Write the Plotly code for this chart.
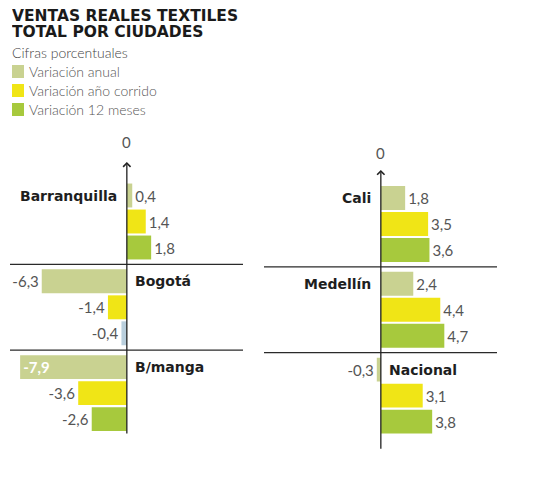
import plotly.graph_objs as go

# data
series = ['Variación anual', 'Variación año corrido', 'Variación 12 meses']
left_cities = ['Barranquilla', 'Bogotá', 'B/manga']
left_values = [[0.4, 1.4, 1.8], [-6.3, -1.4, -0.4], [-7.9, -3.6, -2.6]]
right_cities = ['Cali', 'Medellín', 'Nacional']
right_values = [[1.8, 3.5, 3.6], [2.4, 4.4, 4.7], [-0.3, 3.1, 3.8]]
title_lines = ['VENTAS REALES TEXTILES', 'TOTAL POR CIUDADES']

colors = ['#c9d291', '#f0e516', '#a7c93d']
odd_color = '#b9cfdd'  # Bogotá 12 meses bar shows light blue in the original
FONT = 'Lato'
BOLD = 'DejaVu Sans'
OFF = 8  # page body margin
W, H = 540 - OFF, 492 - OFF
STEP = 3.3  # group spacing in bar units


def fmt(v):
    return f'{v:.1f}'.replace('.', ',')


def px(x):
    return (x - OFF) / W


def py(y):
    return 1 - (y - OFF) / H


fig = go.Figure()

panels = [(left_cities, left_values, 'x', 'y'), (right_cities, right_values, 'x2', 'y2')]
for cities, values, xa, ya in panels:
    for s in range(3):
        xs = [values[g][s] for g in range(len(cities))]
        ys = [g * STEP + s for g in range(len(cities))]
        cols = [colors[s]] * len(cities)
        if xa == 'x' and s == 2:
            cols[1] = odd_color
        pos = ['inside' if v < -7 else 'outside' for v in xs]
        tcol = ['white' if v < -7 else '#555555' for v in xs]
        tw = ['bold' if v < -7 else 'normal' for v in xs]
        fig.add_trace(go.Bar(
            x=xs, y=ys, orientation='h', width=0.92, marker=dict(color=cols, line=dict(width=0)),
            text=[fmt(v) for v in xs], textposition=pos, insidetextanchor='end',
            textfont=dict(family=FONT, size=15, color=tcol, weight=tw),
            constraintext='none', cliponaxis=False, showlegend=False,
            xaxis=xa, yaxis=ya, hoverinfo='skip'))
    # city names, on the opposite side of the first bar
    for g, city in enumerate(cities):
        pos_first = values[g][0] >= 0
        fig.add_annotation(x=0, y=g * STEP, xref=xa, yref=ya, text=city, showarrow=False,
                           xanchor='right' if pos_first else 'left',
                           xshift=-8 if pos_first else 6,
                           font=dict(family=BOLD, size=14, color='#1e1e1e', weight='bold'))
    # group separators
    for g in range(1, len(cities)):
        fig.add_shape(type='line', xref=xa + ' domain', yref=ya, x0=0, x1=1,
                      y0=g * STEP - 0.65, y1=g * STEP - 0.65, line=dict(color='#2a2a2a', width=1.2))

# vertical zero axes with arrow
fig.add_annotation(x=0, y=-1.29, ax=0, ay=9.21, xref='x', yref='y', axref='x', ayref='y', text='',
                   showarrow=True, arrowhead=4, arrowsize=1.1, arrowwidth=1.3, arrowcolor='#222')
fig.add_annotation(x=0, y=-1.08, ax=0, ay=9.7, xref='x2', yref='y2', axref='x2', ayref='y2', text='',
                   showarrow=True, arrowhead=4, arrowsize=1.1, arrowwidth=1.3, arrowcolor='#222')
fig.add_annotation(x=0, y=-2.05, xref='x', yref='y', text='0', showarrow=False,
                   font=dict(family=FONT, size=15, color='#555'))
fig.add_annotation(x=0, y=-1.75, xref='x2', yref='y2', text='0', showarrow=False,
                   font=dict(family=FONT, size=15, color='#555'))

# title block
for i, line in enumerate(title_lines):
    fig.add_annotation(x=px(11), y=py(16 + i * 15), xref='paper', yref='paper', xanchor='left',
                       yanchor='middle', text=line, showarrow=False, height=15, borderpad=0,
                       font=dict(family=BOLD, size=15.5, color='#1a1a1a', weight='bold'))
fig.add_annotation(x=px(10), y=py(52), xref='paper', yref='paper', xanchor='left', yanchor='middle',
                   text='Cifras porcentuales', showarrow=False,
                   font=dict(family=FONT, size=14, color='#444', weight=300))

# legend
for i, name in enumerate(series):
    top = 65 + i * 19
    fig.add_shape(type='rect', xref='paper', yref='paper', x0=px(12), x1=px(24),
                  y0=py(top), y1=py(top + 13), fillcolor=colors[i], line=dict(width=0))
    fig.add_annotation(x=px(27), y=py(top + 6.5), xref='paper', yref='paper', xanchor='left',
                       yanchor='middle', text=name, showarrow=False,
                       font=dict(family=FONT, size=14, color='#555', weight=300))

axis_off = dict(visible=False, showgrid=False, zeroline=False, fixedrange=True)
xr = [-8.65, 8.6]
yr = [(460 - 195.5) / 26, (140 - 195.5) / 26]
fig.update_layout(
    width=W, height=H, margin=dict(l=0, r=0, t=0, b=0),
    paper_bgcolor='white', plot_bgcolor='white', barmode='overlay',
    xaxis=dict(domain=[px(10), px(243)], range=xr, anchor='y', **axis_off),
    xaxis2=dict(domain=[px(264), px(497)], range=xr, anchor='y2', **axis_off),
    yaxis=dict(domain=[py(460), py(140)], range=yr, anchor='x', **axis_off),
    yaxis2=dict(domain=[py(462.5), py(142.5)], range=yr, anchor='x2', **axis_off),
)

fig.write_html('out.html')
